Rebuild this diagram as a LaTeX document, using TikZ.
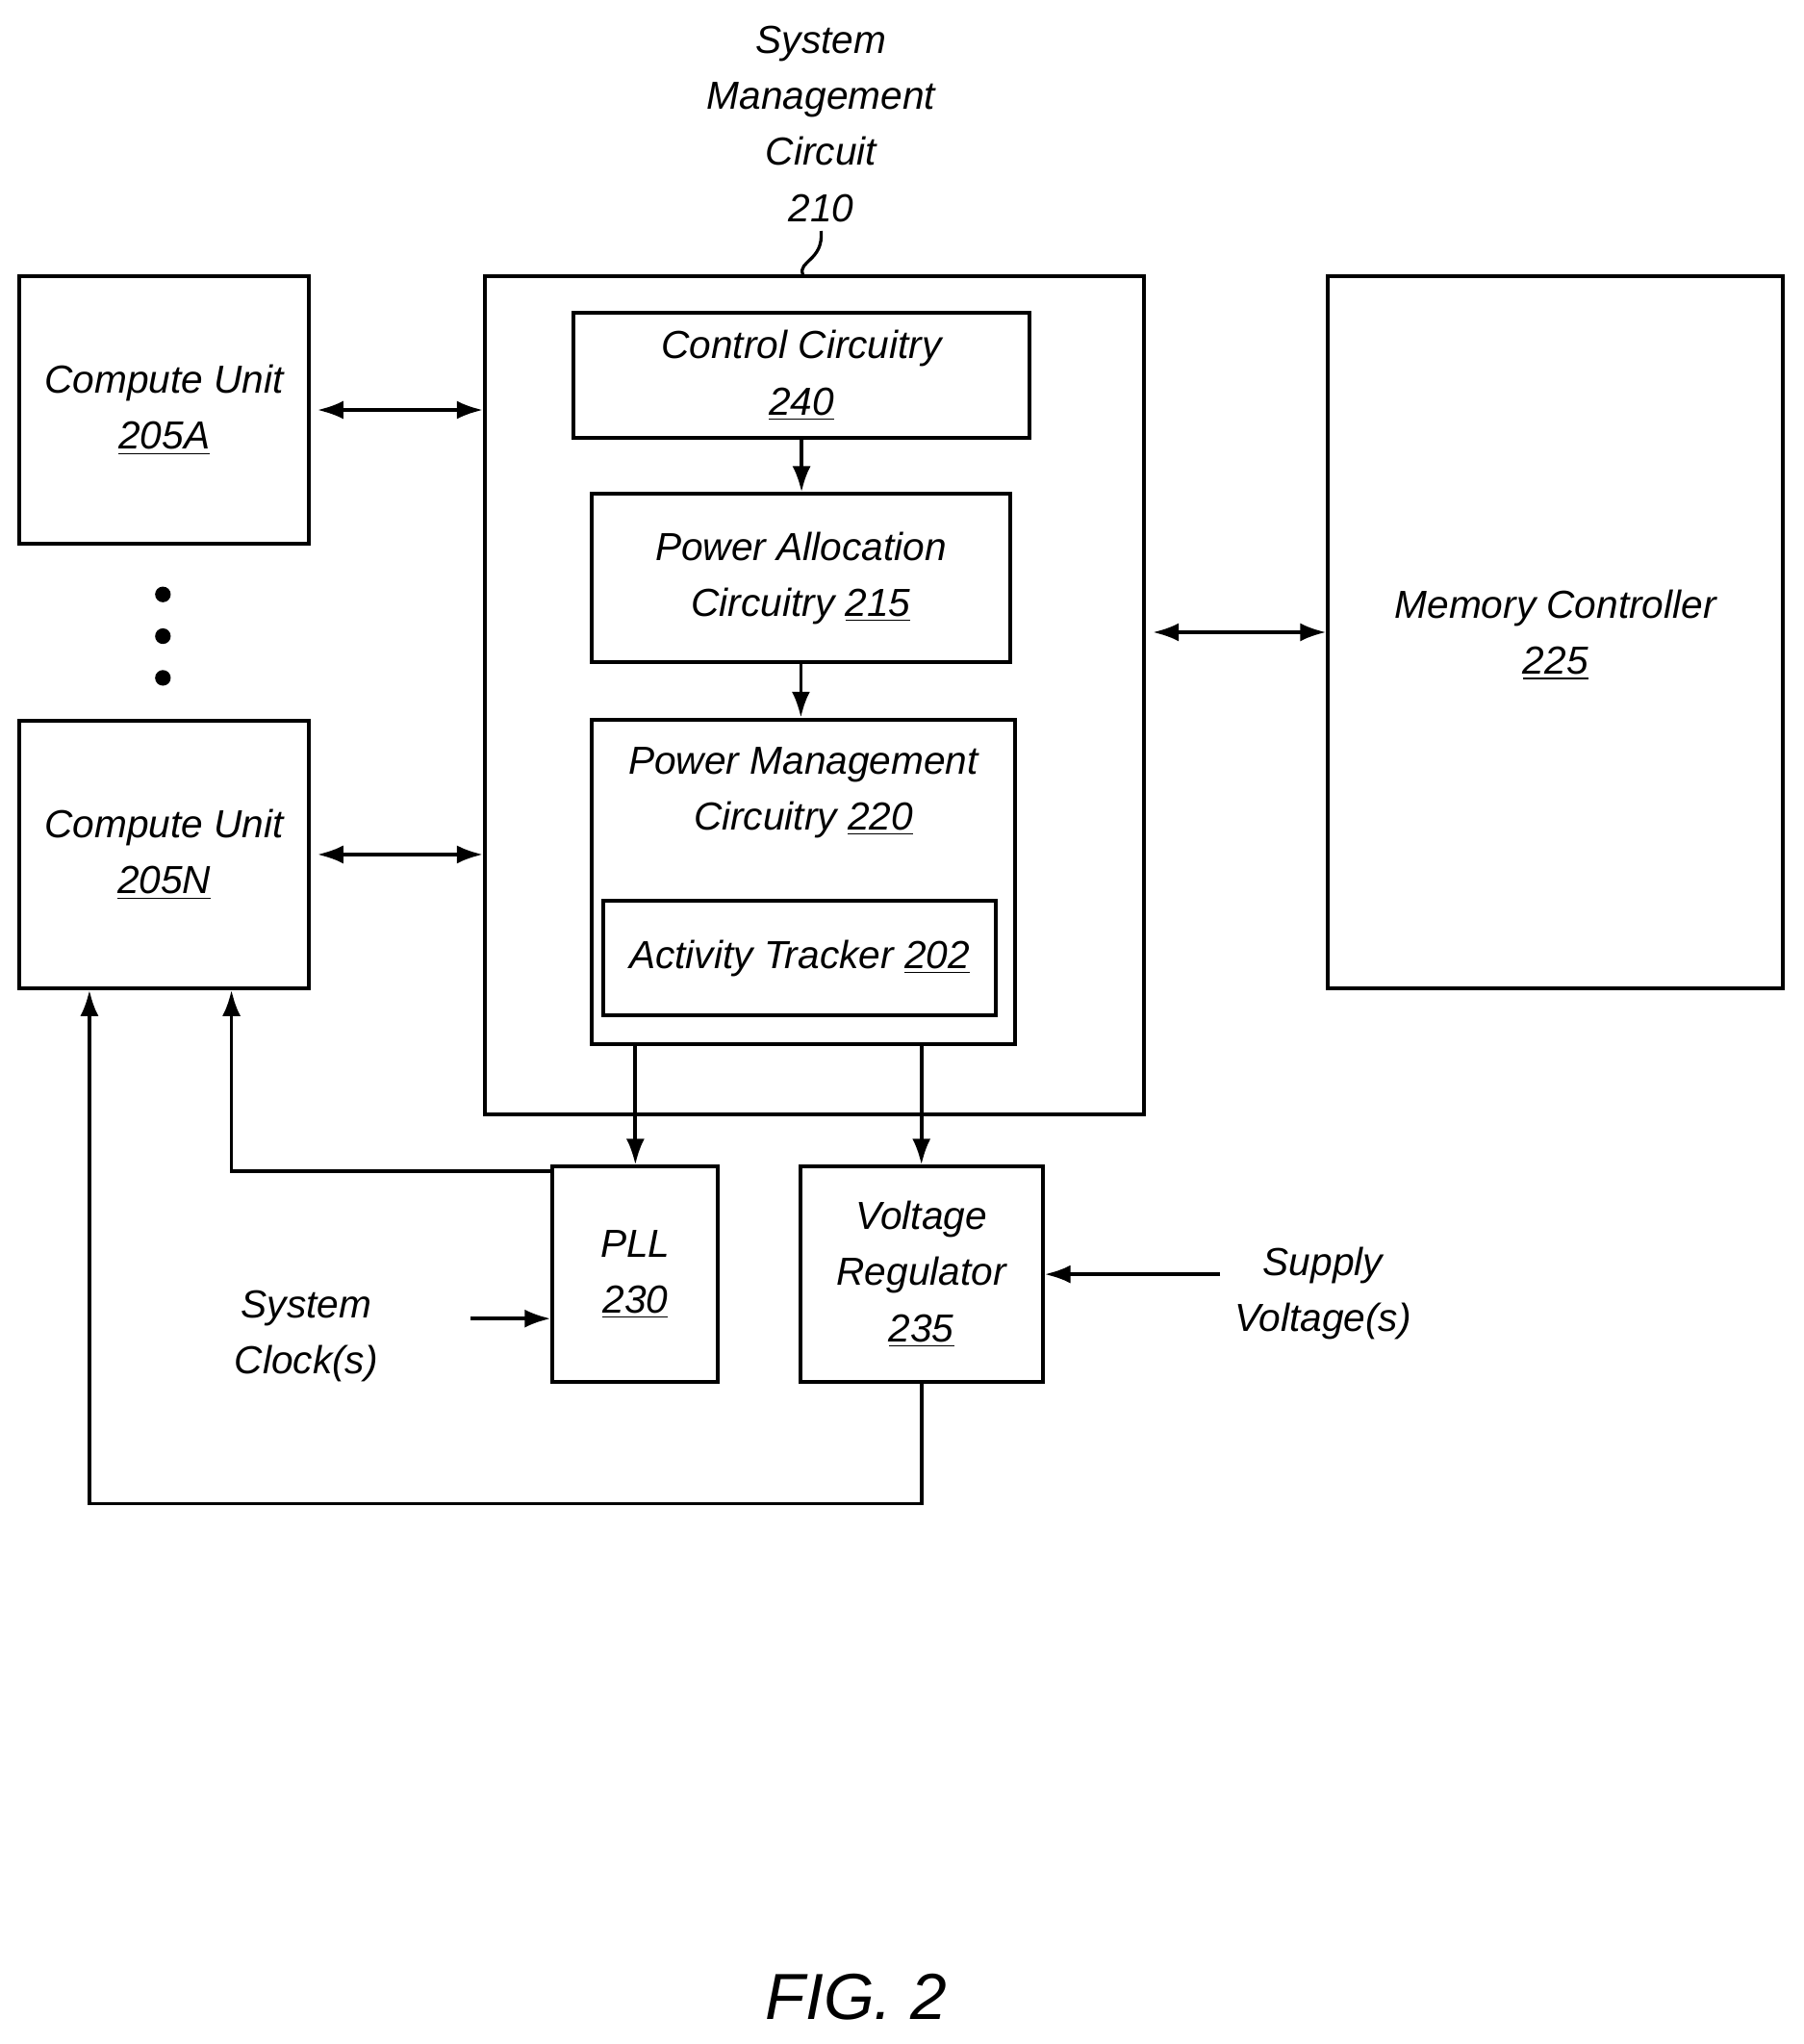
\documentclass[tikz,border=0pt]{standalone}
\usepackage{fontspec}
\setmainfont{Liberation Sans}
\usetikzlibrary{arrows.meta}
\tikzset{
  blk/.style={draw, line width=1.4pt, rectangle, inner sep=0pt, align=center,
    font=\fontsize{15}{21.5}\selectfont\itshape},
  txt/.style={align=center, font=\fontsize{15}{21.5}\selectfont\itshape},
  conn/.style={line width=1.4pt, -{Latex[length=10pt,width=7pt]}},
  biconn/.style={line width=1.4pt, {Latex[length=10pt,width=7pt]}-{Latex[length=10pt,width=7pt]}}
}
\begin{document}
\begin{tikzpicture}[x=0.5pt, y=-0.5pt]
    \useasboundingbox (0,0) rectangle (1384,1568);

    % define nodes
    \node[blk, minimum width=111pt, minimum height=102.5pt] (cua) at (126,314.5) {Compute Unit\\\underline{205A}};
    \node[blk, minimum width=111pt, minimum height=102.5pt] (cun) at (126,655.5) {Compute Unit\\\underline{205N}};
    \node[blk, minimum width=253pt, minimum height=321.5pt] (smc) at (625,533.5) {};
    \node[blk, minimum width=175pt, minimum height=48pt] (ctrl) at (615,288) {Control Circuitry\\\underline{240}};
    \node[blk, minimum width=160.5pt, minimum height=64.5pt] (pa) at (614.5,443.5) {Power Allocation\\Circuitry \underline{215}};
    \node[blk, minimum width=162.5pt, minimum height=124.5pt] (pm) at (616.5,676.5) {};
    \node[txt] (pm_t) at (616.5,608) {Power Management\\Circuitry \underline{220}};
    \node[blk, minimum width=150.5pt, minimum height=44pt] (act) at (613.5,735) {Activity Tracker \underline{202}};
    \node[blk, minimum width=174.5pt, minimum height=273pt, text depth=0pt] (mem) at (1193.5,485) {Memory Controller\\\underline{225}};
    \node[blk, minimum width=63.5pt, minimum height=82.5pt] (pll) at (487.5,977.5) {PLL\\\underline{230}};
    \node[blk, minimum width=93pt, minimum height=82.5pt] (vr) at (707,977.5) {Voltage\\Regulator\\\underline{235}};

    \node[txt] (smc_t) at (630,95) {System\\Management\\Circuit\\210};
    \node[txt] (clk) at (235,1025) {System\\Clock(s)};
    \node[txt] (sup) at (1015,992) {Supply\\Voltage(s)};
    \node[font=\fontsize{25}{30}\selectfont\itshape] (fig) at (657,1532) {FIG. 2};

    \foreach \y in {456,488,520}
        \fill (125,\y) circle (6);

    % connect the nodes
    \draw[line width=1.2pt] (smc_t.south) .. controls (632,200) and (612,200) .. (smc.north -| 616,0);
    \draw[biconn] ([xshift=2.5pt]cua.east) -- (cua.east -| smc.west);
    \draw[biconn] ([xshift=2.5pt]cun.east) -- (cun.east -| smc.west);
    \draw[biconn] ([xshift=2.5pt]smc.east |- mem.west) -- (mem.west);
    \draw[conn] (ctrl.south) -- (ctrl.south |- pa.north);
    \draw[conn] (pa.south) -- (pa.south |- pm.north);
    \draw[conn] (pll.north |- pm.south) -- (pll.north);
    \draw[conn] (vr.north |- pm.south) -- (vr.north);
    \draw[conn] ([yshift=-2.5pt]pll.north west) -| ([xshift=82pt]cun.south west);
    \draw[conn] (vr.south) -- ++(0,92) -| ([xshift=27.5pt]cun.south west);
    \draw[conn] ([xshift=32pt]clk.north east |- pll.west) ++(0,34) -- ([yshift=-17pt]pll.west);
    \draw[conn] ([xshift=-2pt]sup.west |- vr.east) -- (vr.east);

\end{tikzpicture}
\end{document}
